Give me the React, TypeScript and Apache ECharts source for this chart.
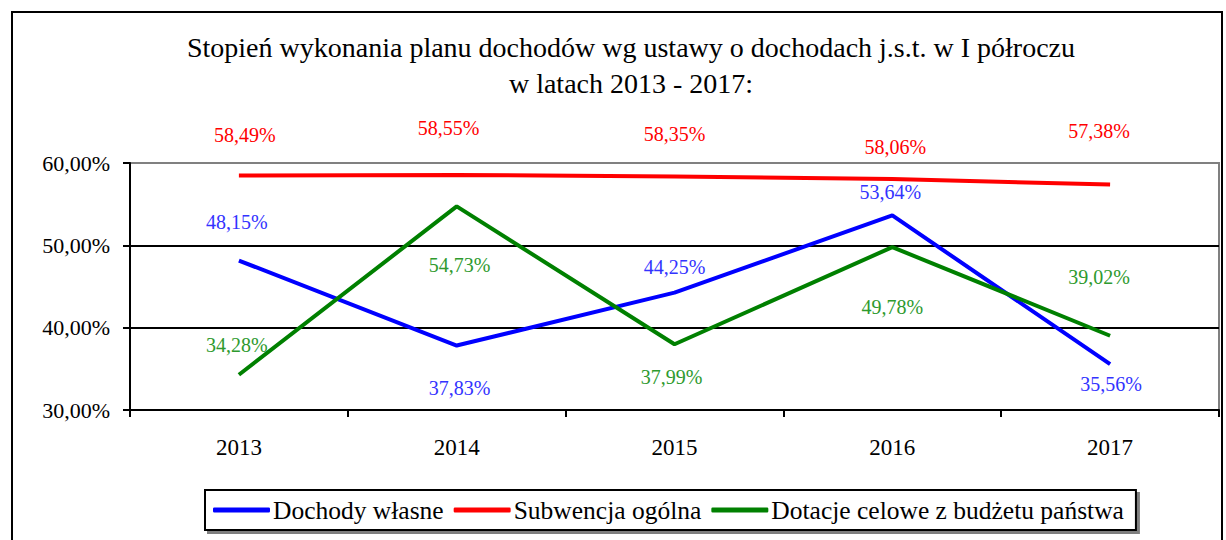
import React, { useEffect, useRef } from "react";
import * as echarts from "echarts";

const years = ["2013", "2014", "2015", "2016", "2017"];
const dochodyWlasne = [48.15, 37.83, 44.25, 53.64, 35.56];
const subwencja = [58.49, 58.55, 58.35, 58.06, 57.38];
const dotacje = [34.28, 54.73, 37.99, 49.78, 39.02];
const yTicks = { min: 30, max: 60, interval: 10 };

// label offsets (pixels) [dx, dy] relative to each point
const offBlue = [[-2, -39], [3, 42], [0, -26], [-2, -23], [1, 20]];
const offRed = [[6, -40], [-8, -47], [0, -43], [3, -32], [-11, -54]];
const offGreen = [[-2, -30], [3, 59], [-3, 33], [0, 60], [-11, -59]];

const FONT = "'Liberation Serif', 'Times New Roman', serif";
const fmt = (v: number) => v.toFixed(2).replace(".", ",") + "%";

function mk(name: string, vals: number[], offs: number[][], lineColor: string, labelColor: string) {
  return {
    name,
    type: "line",
    color: lineColor,
    symbol: "circle",
    symbolSize: 0.1,
    lineStyle: { width: 4, color: lineColor },
    data: vals.map((v, i) => ({
      value: v,
      label: {
        show: true,
        position: "inside",
        offset: offs[i],
        formatter: () => fmt(v),
        color: labelColor,
        fontFamily: FONT,
        fontSize: 20,
      },
    })),
  };
}

export default function App() {
  const ref = useRef<HTMLDivElement>(null);
  useEffect(() => {
    document.body.style.margin = "0";
    const chart = echarts.init(ref.current!, null, { renderer: "svg" });
    chart.setOption({
      animation: false,
      backgroundColor: "#fff",
      textStyle: { fontFamily: FONT },
      title: {
        text: "Stopień wykonania planu dochodów wg ustawy o dochodach j.s.t. w I półroczu\nw latach 2013 - 2017:",
        left: 626,
        textAlign: "center",
        top: 24,
        textStyle: { fontFamily: FONT, fontSize: 28, fontWeight: "normal", color: "#000", lineHeight: 36 },
      },
      graphic: [
        {
          type: "rect",
          shape: { x: 12, y: 12, width: 1210, height: 560 },
          style: { fill: "none", stroke: "#000", lineWidth: 2 },
          z: -1,
        },
      ],
      grid: {
        left: 130,
        right: 7,
        top: 163,
        bottom: 130,
        show: true,
        borderColor: "#808080",
        borderWidth: 2,
      },
      legend: {
        left: 205,
        top: 490,
        padding: [7, 12, 7, 8],
        itemGap: 10,
        itemWidth: 57,
        itemHeight: 5,
        icon: "roundRect",
        borderColor: "#000",
        borderWidth: 2,
        backgroundColor: "#fff",
        shadowColor: "rgba(0,0,0,0.5)",
        shadowOffsetX: 3,
        shadowOffsetY: 3,
        shadowBlur: 0,
        textStyle: { fontFamily: FONT, fontSize: 25.5, color: "#000", padding: [0, 0, 0, -2] },
      },
      xAxis: {
        type: "category",
        data: years,
        boundaryGap: true,
        axisLine: { lineStyle: { color: "#000", width: 2 } },
        axisTick: { show: true, length: 7, lineStyle: { color: "#000", width: 2 } },
        axisLabel: { color: "#000", fontFamily: FONT, fontSize: 23, margin: 26 },
      },
      yAxis: {
        type: "value",
        min: yTicks.min,
        max: yTicks.max,
        interval: yTicks.interval,
        axisLine: { show: true, lineStyle: { color: "#000", width: 2 } },
        axisTick: { show: true, length: 7, lineStyle: { color: "#000", width: 2 } },
        axisLabel: { color: "#000", fontFamily: FONT, fontSize: 22, margin: 20, formatter: (v: number) => fmt(v) },
        splitLine: { show: true, lineStyle: { color: ["#000", "#000", "#000", "#808080"], width: 2 } },
      },
      series: [
        mk("Dochody własne", dochodyWlasne, offBlue, "#0000FF", "#3333FF"),
        mk("Subwencja ogólna", subwencja, offRed, "#FF0000", "#FF0000"),
        mk("Dotacje celowe z budżetu państwa", dotacje, offGreen, "#008000", "#2E9A2E"),
      ],
    });
    return () => chart.dispose();
  }, []);
  return <div ref={ref} style={{ width: 1226, height: 540 }} />;
}
